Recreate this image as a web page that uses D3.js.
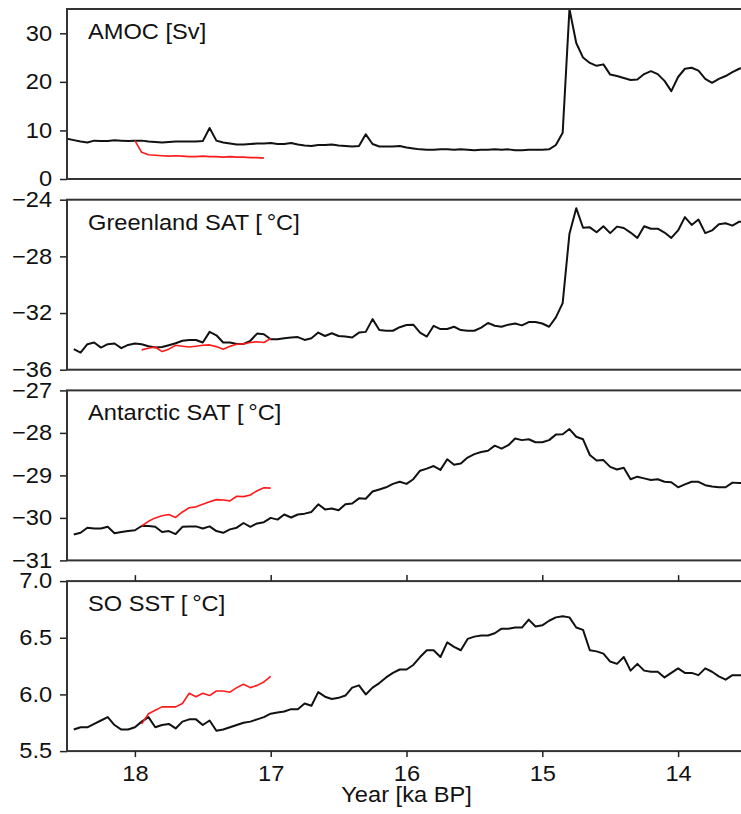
<!DOCTYPE html>
<html>
<head>
<meta charset="utf-8">
<script src="https://cdn.jsdelivr.net/npm/d3@7"></script>
<style>
  body { margin: 0; background: #fff; }
  text { font-family: "Liberation Sans", Arial, Helvetica, sans-serif; }
</style>
</head>
<body>
<div id="chart"></div>
<script>
// Data: model output every 0.05 ka
var yearStep = 0.05;

var amocStart = 18.5;
var amocBlack = [8.3, 8.0, 7.7, 7.5, 7.9, 7.8, 7.8, 8.0, 7.9, 7.8,
  7.9, 7.9, 7.7, 7.6, 7.5, 7.6, 7.7, 7.7, 7.7, 7.7,
  7.8, 10.5, 7.9, 7.5, 7.3, 7.1, 7.1, 7.2, 7.3, 7.3,
  7.4, 7.2, 7.2, 7.4, 7.1, 6.9, 6.8, 7.0, 7.0, 7.1,
  6.9, 6.8, 6.7, 6.8, 9.2, 7.2, 6.7, 6.7, 6.7, 6.8,
  6.5, 6.3, 6.1, 6.0, 6.0, 6.1, 6.1, 6.0, 6.1, 6.0,
  5.9, 6.0, 6.0, 6.1, 6.0, 6.1, 5.9, 5.9, 6.0, 6.0,
  6.0, 6.1, 7.0, 9.5, 35.0, 28.0, 25.0, 23.9, 23.3, 23.6,
  21.5, 21.2, 20.8, 20.4, 20.5, 21.6, 22.2, 21.6, 20.2, 18.1,
  21.0, 22.7, 22.9, 22.3, 20.6, 19.8, 20.6, 21.2, 22.0, 22.7, 23.1];
var amocRedStart = 18.0;
var amocRed = [7.9, 5.5, 5.0, 4.9, 4.8, 4.7, 4.8, 4.7, 4.6, 4.6,
  4.7, 4.6, 4.6, 4.5, 4.6, 4.5, 4.5, 4.4, 4.4, 4.3];

var seriesStart = 18.45;
var redStart = 17.95;

var greenBlack = [-34.55, -34.79, -34.2, -34.08, -34.44, -34.2, -34.15, -34.48, -34.25, -34.15,
  -34.2, -34.34, -34.44, -34.4, -34.27, -34.13, -33.96, -33.9, -33.9, -34.08,
  -33.33, -33.57, -34.08, -34.08, -34.18, -34.18, -33.96, -33.45, -33.5, -33.85,
  -33.85, -33.78, -33.73, -33.7, -33.9, -33.78, -33.38, -33.62, -33.43, -33.62,
  -33.66, -33.73, -33.38, -33.33, -32.43, -33.2, -33.25, -33.25, -33.0, -32.85,
  -32.82, -33.38, -33.66, -32.9, -33.13, -33.13, -32.97, -33.2, -33.25, -33.25,
  -33.03, -32.7, -32.9, -32.97, -32.82, -32.74, -32.87, -32.64, -32.64, -32.74,
  -32.97, -32.31, -31.3, -26.4, -24.6, -25.98, -25.95, -26.3, -25.87, -26.36,
  -25.9, -26.0, -26.32, -26.7, -25.87, -26.05, -26.05, -26.32, -26.7, -26.17,
  -25.23, -25.78, -25.4, -26.36, -26.17, -25.73, -25.66, -25.83, -25.55, -25.6];
var greenRed = [-34.6, -34.48, -34.4, -34.72, -34.55, -34.27, -34.34, -34.4, -34.34, -34.27,
  -34.25, -34.37, -34.55, -34.34, -34.2, -34.18, -34.08, -34.03, -34.08, -33.8];

var antBlack = [-30.39, -30.35, -30.23, -30.25, -30.25, -30.21, -30.36, -30.33, -30.31, -30.29,
  -30.19, -30.19, -30.21, -30.33, -30.31, -30.38, -30.21, -30.2, -30.2, -30.25,
  -30.2, -30.31, -30.35, -30.27, -30.23, -30.12, -30.21, -30.13, -30.1, -30.0,
  -30.04, -29.92, -29.99, -29.92, -29.9, -29.86, -29.68, -29.8, -29.78, -29.82,
  -29.68, -29.66, -29.54, -29.55, -29.38, -29.33, -29.28, -29.2, -29.15, -29.2,
  -29.09, -28.89, -28.84, -28.78, -28.87, -28.62, -28.75, -28.72, -28.58, -28.5,
  -28.45, -28.42, -28.3, -28.37, -28.29, -28.13, -28.17, -28.15, -28.22, -28.22,
  -28.17, -28.04, -28.03, -27.91, -28.09, -28.15, -28.52, -28.65, -28.64, -28.8,
  -28.86, -28.82, -29.09, -29.03, -29.07, -29.11, -29.09, -29.15, -29.16, -29.28,
  -29.21, -29.15, -29.15, -29.23, -29.26, -29.28, -29.28, -29.17, -29.18, -29.18];
var antRed = [-30.19, -30.08, -30.0, -29.95, -29.92, -29.99, -29.86, -29.76, -29.74, -29.68,
  -29.62, -29.57, -29.58, -29.6, -29.49, -29.5, -29.46, -29.36, -29.29, -29.3];

var sstBlack = [5.69, 5.71, 5.71, 5.74, 5.77, 5.80, 5.73, 5.69, 5.69, 5.71,
  5.76, 5.80, 5.71, 5.73, 5.74, 5.70, 5.76, 5.78, 5.78, 5.73,
  5.77, 5.68, 5.69, 5.71, 5.73, 5.75, 5.76, 5.78, 5.80, 5.83,
  5.84, 5.85, 5.87, 5.87, 5.92, 5.90, 6.02, 5.98, 5.96, 5.97,
  5.99, 6.06, 6.08, 6.00, 6.06, 6.10, 6.15, 6.19, 6.22, 6.22,
  6.26, 6.33, 6.39, 6.39, 6.33, 6.46, 6.42, 6.39, 6.49, 6.51,
  6.52, 6.52, 6.54, 6.58, 6.58, 6.59, 6.59, 6.66, 6.60, 6.61,
  6.65, 6.68, 6.69, 6.68, 6.59, 6.57, 6.39, 6.38, 6.36, 6.29,
  6.27, 6.33, 6.21, 6.27, 6.21, 6.20, 6.20, 6.15, 6.19, 6.23,
  6.19, 6.19, 6.17, 6.23, 6.20, 6.16, 6.13, 6.17, 6.17, 6.17];
var sstRed = [5.74, 5.83, 5.86, 5.89, 5.89, 5.89, 5.92, 6.01, 5.98, 6.01,
  5.99, 6.03, 6.03, 6.02, 6.06, 6.09, 6.06, 6.08, 6.11, 6.16];

var xTicks = [18, 17, 16, 15, 14];
var amocTicks = [0, 10, 20, 30];
var greenTicks = [-24, -28, -32, -36];
var antTicks = [-27, -28, -29, -30, -31];
var sstTicks = [7.0, 6.5, 6.0, 5.5];

// Set up chart
var svgWidth = 741;
var svgHeight = 814;
var left = 67;
var right = 746;   // the right frame edge falls outside the page
var panelHeight = 170;
var panelTops = [9, 199.7, 390.4, 581.1];
var fontSize = "21.5px";
var stretch = "scale(1.1,1)";   // lettering in the figure is a bit wide

var svg = d3.select("#chart")
  .append("svg")
  .attr("width", svgWidth)
  .attr("height", svgHeight);

var x = d3.scaleLinear().domain([18.5, 13.5]).range([left, right]);

var panels = [
  {label: "AMOC [Sv]", domain: [0, 35], ticks: amocTicks, fmt: d3.format("d"),
   black: amocBlack, blackStart: amocStart, red: amocRed, redStart: amocRedStart},
  {label: "Greenland SAT [\u2009\u00b0C]", domain: [-36, -24], ticks: greenTicks, fmt: d3.format("d"),
   black: greenBlack, blackStart: seriesStart, red: greenRed, redStart: redStart},
  {label: "Antarctic SAT [\u2009\u00b0C]", domain: [-31, -27], ticks: antTicks, fmt: d3.format("d"),
   black: antBlack, blackStart: seriesStart, red: antRed, redStart: redStart},
  {label: "SO SST [\u2009\u00b0C]", domain: [5.5, 7.0], ticks: sstTicks, fmt: d3.format(".1f"),
   black: sstBlack, blackStart: seriesStart, red: sstRed, redStart: redStart}
];

function toPoints(values, start) {
  return values.map(function(v, i) { return [start - i * yearStep, v]; });
}

function styleAxis(sel) {
  sel.select(".domain").remove();
  sel.selectAll("line").attr("stroke", "#222").attr("stroke-width", 1.5);
  sel.selectAll("text")
    .attr("font-size", fontSize)
    .attr("font-family", "Liberation Sans, Arial, sans-serif")
    .attr("fill", "#111")
    .attr("transform", stretch);
}

panels.forEach(function(p, k) {
  var top = panelTops[k];
  var y = d3.scaleLinear().domain(p.domain).range([top + panelHeight, top]);

  var g = svg.append("g");

  g.append("clipPath")
    .attr("id", "clip" + k)
    .append("rect")
    .attr("x", left).attr("y", top - 1)
    .attr("width", right - left).attr("height", panelHeight + 2);

  // y axis
  var ya = g.append("g")
    .attr("transform", `translate(${left},0)`)
    .call(d3.axisLeft(y).tickValues(p.ticks).tickFormat(p.fmt).tickSize(7).tickPadding(6.5));
  styleAxis(ya);

  var line = d3.line()
    .x(function(d) { return x(d[0]); })
    .y(function(d) { return y(d[1]); });

  var lines = g.append("g").attr("clip-path", `url(#clip${k})`);

  lines.append("path")
    .datum(toPoints(p.black, p.blackStart))
    .attr("fill", "none")
    .attr("stroke", "#111")
    .attr("stroke-width", 2)
    .attr("stroke-linejoin", "round")
    .attr("d", line);

  lines.append("path")
    .datum(toPoints(p.red, p.redStart))
    .attr("fill", "none")
    .attr("stroke", "#ff1a1a")
    .attr("stroke-width", 1.6)
    .attr("stroke-linejoin", "round")
    .attr("d", line);

  // frame
  g.append("rect")
    .attr("x", left).attr("y", top)
    .attr("width", right - left).attr("height", panelHeight)
    .attr("fill", "none")
    .attr("stroke", "#333")
    .attr("stroke-width", 2);

  g.append("text")
    .attr("transform", `translate(${left + 21},${top + 30}) ${stretch}`)
    .attr("font-size", fontSize)
    .attr("fill", "#111")
    .text(p.label);

  // x axis only on the bottom panel, ticks on both edges
  if (k === panels.length - 1) {
    var xb = g.append("g")
      .attr("transform", `translate(0,${top + panelHeight})`)
      .call(d3.axisBottom(x).tickValues(xTicks).tickFormat(d3.format("d")).tickSize(6).tickPadding(9));
    styleAxis(xb);

    var xt = g.append("g")
      .attr("transform", `translate(0,${top})`)
      .call(d3.axisTop(x).tickValues(xTicks).tickFormat("").tickSize(6));
    styleAxis(xt);

    g.append("text")
      .attr("transform", `translate(${(left + right) / 2},802) ${stretch}`)
      .attr("text-anchor", "middle")
      .attr("font-size", fontSize)
      .attr("fill", "#111")
      .text("Year [ka BP]");
  }
});
</script>
</body>
</html>
